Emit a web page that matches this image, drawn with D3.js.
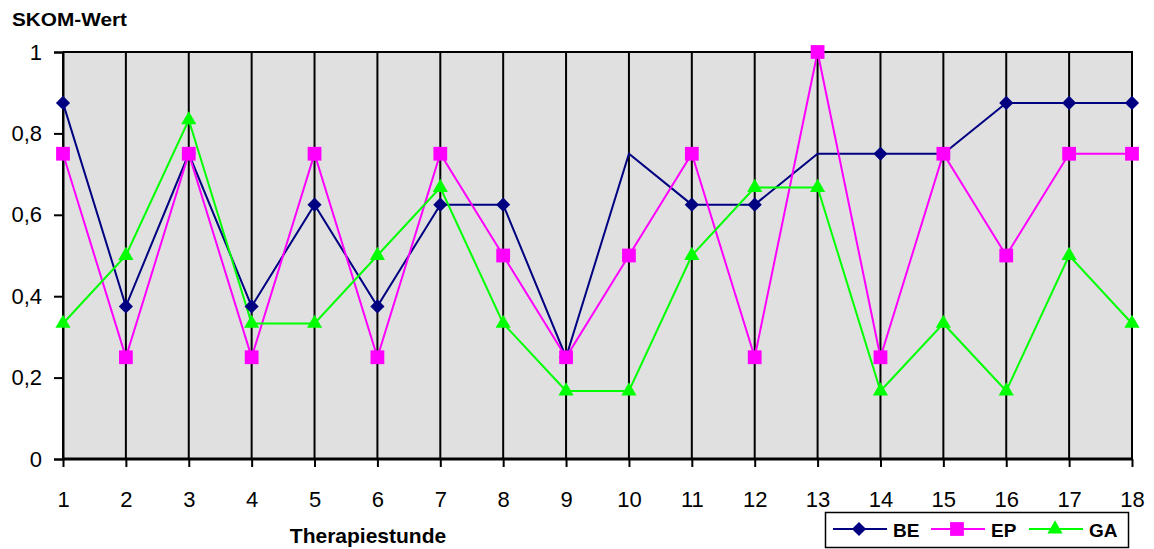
<!DOCTYPE html>
<html>
<head>
<meta charset="utf-8">
<script src="https://cdn.jsdelivr.net/npm/d3@7/dist/d3.min.js"></script>
<style>
	body { margin: 0; background: #fff; }
	text { font-family: "Liberation Sans", Arial, sans-serif; }
</style>
</head>
<body>
<svg id="chart" width="1154" height="549"></svg>
<script>
// Therapiestunden 1..18
var stunden = d3.range(1, 19);
var yTicks = [0, 0.2, 0.4, 0.6, 0.8, 1];

// SKOM-Werte pro Person
var beWerte = [0.875, 0.375, 0.75, 0.375, 0.625, 0.375, 0.625, 0.625, 0.25, 0.75, 0.625, 0.625, 0.75, 0.75, 0.75, 0.875, 0.875, 0.875];
var epWerte = [0.75, 0.25, 0.75, 0.25, 0.75, 0.25, 0.75, 0.5, 0.25, 0.5, 0.75, 0.25, 1, 0.25, 0.75, 0.5, 0.75, 0.75];
var gaWerte = [0.333, 0.5, 0.833, 0.333, 0.333, 0.5, 0.667, 0.333, 0.167, 0.167, 0.5, 0.667, 0.667, 0.167, 0.333, 0.167, 0.5, 0.333];
// BE ohne sichtbaren Marker in Stunde 10 und 13
var beOhneMarker = [10, 13];

// Raute wie in Excel (gleich breit wie hoch)
var raute = {
	draw: function (ctx, size) {
		var r = Math.sqrt(size / 2);
		ctx.moveTo(0, -r);
		ctx.lineTo(r, 0);
		ctx.lineTo(0, r);
		ctx.lineTo(-r, 0);
		ctx.closePath();
	}
};

var serien = [
	{ name: "BE", werte: beWerte, farbe: "#000080", form: raute, groesse: 100 },
	{ name: "EP", werte: epWerte, farbe: "#ff00ff", form: d3.symbolSquare, groesse: 190 },
	{ name: "GA", werte: gaWerte, farbe: "#00ff00", form: d3.symbolTriangle, groesse: 100 }
];

var svg = d3.select("#chart");
var pLeft = 63, pRight = 1132, pTop = 52, pBottom = 459;

var x = d3.scalePoint().domain(stunden).range([pLeft, pRight]);
var y = d3.scaleLinear().domain([0, 1]).range([pBottom, pTop]);

// Hintergrund
svg.append("rect")
	.attr("x", pLeft).attr("y", pTop)
	.attr("width", pRight - pLeft).attr("height", pBottom - pTop)
	.attr("fill", "#e0e0e0");

// vertikale Linien
svg.append("g").selectAll("line")
	.data(stunden)
	.enter().append("line")
	.attr("x1", function (d) { return x(d); })
	.attr("x2", function (d) { return x(d); })
	.attr("y1", pTop).attr("y2", pBottom)
	.attr("stroke", "#000").attr("stroke-width", 2);

// Rahmen oben
svg.append("line")
	.attr("x1", pLeft).attr("x2", pRight + 1)
	.attr("y1", pTop).attr("y2", pTop)
	.attr("stroke", "#000").attr("stroke-width", 2);

// y-Achse
var yAxis = d3.axisLeft(y)
	.tickValues(yTicks)
	.tickSize(9)
	.tickPadding(12)
	.tickFormat(function (d) { return d3.format(".1~f")(d).replace(".", ","); });
var gy = svg.append("g").attr("transform", "translate(" + pLeft + ",0)").call(yAxis);
gy.select(".domain").attr("stroke-width", 2);
gy.selectAll(".tick line").attr("stroke-width", 2);
gy.selectAll("text").attr("font-size", 22).attr("fill", "#000").attr("font-family", "Liberation Sans, Arial, sans-serif");

// x-Achse
var xAxis = d3.axisBottom(x).tickSize(8).tickPadding(24);
var gx = svg.append("g").attr("transform", "translate(0," + pBottom + ")").call(xAxis);
gx.select(".domain").attr("stroke-width", 3).attr("d", "M" + pLeft + ",0H" + (pRight + 1));
gx.selectAll(".tick line").attr("stroke-width", 2);
gx.selectAll("text").attr("font-size", 22).attr("fill", "#000").attr("font-family", "Liberation Sans, Arial, sans-serif");

// Achsentitel
svg.append("text")
	.attr("x", 12).attr("y", 26)
	.attr("font-size", 19).attr("font-weight", "bold")
	.attr("textLength", 115).attr("lengthAdjust", "spacingAndGlyphs")
	.text("SKOM-Wert");
svg.append("text")
	.attr("x", 368).attr("y", 543)
	.attr("text-anchor", "middle")
	.attr("font-size", 21).attr("font-weight", "bold")
	.text("Therapiestunde");

// Linien und Marker
var linie = d3.line()
	.x(function (d, i) { return x(stunden[i]); })
	.y(function (d) { return y(d); });

serien.forEach(function (s) {
	svg.append("path")
		.datum(s.werte)
		.attr("d", linie)
		.attr("fill", "none")
		.attr("stroke", s.farbe)
		.attr("stroke-width", 2);
});

serien.forEach(function (s) {
	var punkte = s.werte.map(function (v, i) { return { stunde: stunden[i], wert: v }; })
		.filter(function (d) { return !(s.name === "BE" && beOhneMarker.indexOf(d.stunde) >= 0); });
	svg.append("g").selectAll("path")
		.data(punkte)
		.enter().append("path")
		.attr("d", d3.symbol().type(s.form).size(s.groesse))
		.attr("transform", function (d) { return "translate(" + x(d.stunde) + "," + y(d.wert) + ")"; })
		.attr("fill", s.farbe);
});

// Legende
var legende = svg.append("g");
legende.append("rect")
	.attr("x", 825.5).attr("y", 512.5)
	.attr("width", 303).attr("height", 35)
	.attr("fill", "#fff").attr("stroke", "#000").attr("stroke-width", 1.5);

var legX = [833, 931, 1029];
serien.forEach(function (s, i) {
	var g = legende.append("g").attr("transform", "translate(" + legX[i] + ",529)");
	g.append("line").attr("x1", 0).attr("x2", 54).attr("y1", 0).attr("y2", 0)
		.attr("stroke", s.farbe).attr("stroke-width", 2);
	g.append("path")
		.attr("d", d3.symbol().type(s.form).size(s.groesse))
		.attr("transform", "translate(26,0)")
		.attr("fill", s.farbe);
	g.append("text")
		.attr("x", 60).attr("y", 8)
		.attr("font-size", 19).attr("font-weight", "bold")
		.text(s.name);
});
</script>
</body>
</html>
